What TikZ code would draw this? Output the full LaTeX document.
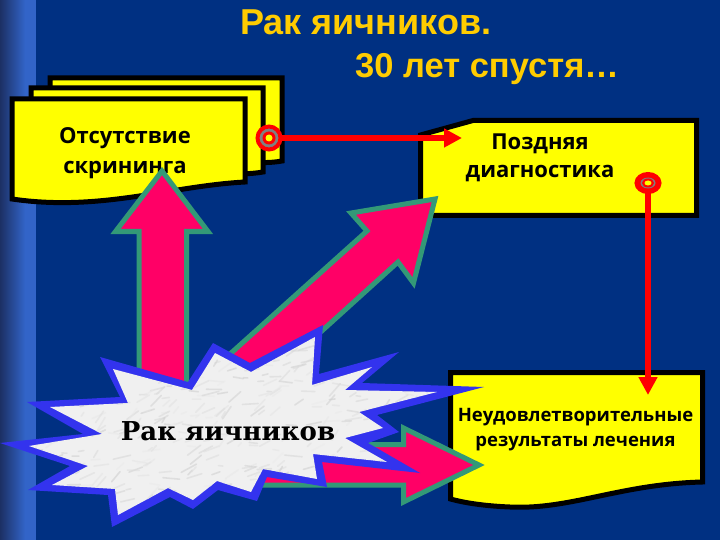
\documentclass[tikz,border=0pt]{standalone}
\usepackage{fontspec}
\setmainfont{Liberation Sans}
\newfontfamily\notefont{Open Sans}
\newfontfamily\burstfont{DejaVu Serif}
\usetikzlibrary{arrows.meta, shapes.geometric}
\definecolor{navy}{RGB}{0,48,130}
\definecolor{stripdark}{RGB}{28,48,100}
\definecolor{stripblue}{RGB}{50,100,200}
\definecolor{notefill}{RGB}{255,255,0}
\definecolor{fatpink}{RGB}{255,0,102}
\definecolor{fatedge}{RGB}{51,153,119}
\definecolor{burstedge}{RGB}{51,51,238}
\definecolor{titlegold}{RGB}{255,204,0}
\tikzset{
    note/.style={draw=black, line width=5pt, fill=notefill, miter limit=10},
    fatarrow/.style={draw=fatedge, line width=5pt, fill=fatpink, miter limit=10},
    notetext/.style={font=\notefont\bfseries, align=center, text=black, inner sep=0pt},
    titletext/.style={font=\bfseries\fontsize{36}{40}\selectfont, text=titlegold, inner sep=0pt, anchor=base west},
    tag/.style={circle, draw=red, line width=4pt, fill=gray, minimum size=23pt, inner sep=0pt, outer sep=0pt,
        path picture={\fill[red] (path picture bounding box.center) circle (6.5pt);
            \fill[notefill] (path picture bounding box.center) circle (3.5pt);}},
    flattag/.style={ellipse, draw=red, line width=5pt, fill=red, minimum width=22pt, minimum height=17pt, inner sep=0pt, outer sep=0pt,
        path picture={\fill[gray] (path picture bounding box.center) ellipse (7.5pt and 5.5pt);
            \fill[red] (path picture bounding box.center) ellipse (6pt and 4.5pt);
            \fill[notefill] (path picture bounding box.center) ellipse (3.5pt and 2.5pt);}},
    redline/.style={draw=red, line width=6pt, -{Triangle[length=18pt,width=18pt]}}
}
\begin{document}
\begin{tikzpicture}[x=1pt, y=-1pt]
    \useasboundingbox (0,0) rectangle (720,540);
    % Background
    \fill[navy] (0,0) rectangle (720,540);
    \shade[left color=stripdark, right color=stripblue] (0,0) rectangle (25,540);
    \fill[stripblue] (25,0) rectangle (36,540);
    % Title
    \node[titletext] (titleone) at (240,35) {Рак яичников.};
    \node[titletext, font=\bfseries\fontsize{34.5}{40}\selectfont] (titletwo) at (355,78) {30 лет спустя…};
    % Stacked notes
    \draw[note] (50,78) -- (282,78) -- (282,161) .. controls (260,165) and (240,160) .. (232,160) -- (50,160) -- cycle;
    \draw[note] (31,88) -- (263,88) -- (263,172) .. controls (240,176) and (220,172) .. (212,172) -- (31,172) -- cycle;
    \draw[note] (12,99) -- (245,99) -- (245,182) .. controls (170,186) and (100,212) .. (12,199) -- cycle;
    \node[notetext, font=\notefont\bfseries\fontsize{22}{30}\selectfont] (screen) at (125,153) {Отсутствие\\скрининга};
    % Late note
    \draw[note] (420.5,135) -- (473,120.5) -- (696.5,120.5) -- (696.5,215.5) -- (420.5,215.5) -- cycle;
    \node[notetext, font=\notefont\bfseries\fontsize{22}{28}\selectfont] (late) at (540,158) {Поздняя\\диагностика};
    % Result note
    \draw[note] (450.5,372.5) -- (702.5,372.5) -- (702.5,482) .. controls (620,484) and (570,510) .. (510,507) .. controls (485,506) and (465,503) .. (450.5,499) -- cycle;
    \node[notetext, font=\notefont\bfseries\fontsize{18.5}{25}\selectfont] (result) at (575.5,430) {Неудовлетворительные\\результаты лечения};
    % Fat arrows
    \draw[fatarrow] (139,400) -- (139,231.5) -- (115.5,231.5) -- (162,171) -- (208,231.5) -- (186.5,231.5) -- (186.5,400) -- cycle;
    \draw[fatarrow] (230,354) -- (367,231) -- (351,213) -- (435,199) -- (413.5,283) -- (398,262) -- (261,386) -- cycle;
    \draw[fatarrow] (250,444.5) -- (403.5,444.5) -- (403.5,428) -- (479,465) -- (403.5,502) -- (403.5,485) -- (250,485) -- cycle;
    % Burst
    \fill[burstedge] (100,357) -- (188,382) -- (213,343) -- (250,363) -- (323,325) -- (319,374) -- (399,352) -- (362,383) -- (484,387) -- (377,415) -- (399,432) -- (368,443) -- (420,473) -- (322,462) -- (327,487) -- (267,477) -- (257,501) -- (218,490) -- (193,509) -- (170,497) -- (112,527) -- (108,495) -- (28,490) -- (70,466) -- (0,443) -- (83,434) -- (27,402) -- (120,397) -- cycle;
    \begin{scope}
        \path[clip] (113,369) -- (192,390) -- (215,353) -- (251,372) -- (315,337) -- (312,385) -- (372,367) -- (345,390) -- (437,392) -- (359,412) -- (383,428) -- (345,438) -- (387,462) -- (313,454) -- (317,479) -- (263,469) -- (251,492) -- (217,481) -- (193,500) -- (168,488) -- (118,515) -- (115,489) -- (52,485) -- (88,466) -- (29,446) -- (102,434) -- (50,407) -- (128,403) -- cycle;
        \fill[gray!12] (0,300) rectangle (500,540);
        % Marble veins
        \pgfmathsetseed{7}
        \foreach \i in {1,...,500}{
            \pgfmathsetmacro{\px}{20+rnd*430}
            \pgfmathsetmacro{\py}{335+rnd*185}
            \pgfmathsetmacro{\pl}{4+rnd*14}
            \pgfmathsetmacro{\pa}{-60+rnd*70}
            \pgfmathsetmacro{\pg}{15+rnd*25}
            \draw[gray!\pg, line width=1.6pt, opacity=0.55, line cap=round] (\px,\py) -- ++(\pa:\pl);
        }
    \end{scope}
    \node[font=\burstfont\bfseries\fontsize{26}{30}\selectfont, inner sep=0pt] (burst) at (228,431) {Рак яичников};
    % Connectors
    \node[tag] (tagscreen) at (269,138) {};
    \node[flattag] (taglate) at (648,183) {};
    \coordinate (latein) at (462,138);
    \coordinate (resultin) at (648,395);
    \draw[redline] (tagscreen) -- (latein);
    \draw[redline] (taglate) -- (resultin);
\end{tikzpicture}
\end{document}
